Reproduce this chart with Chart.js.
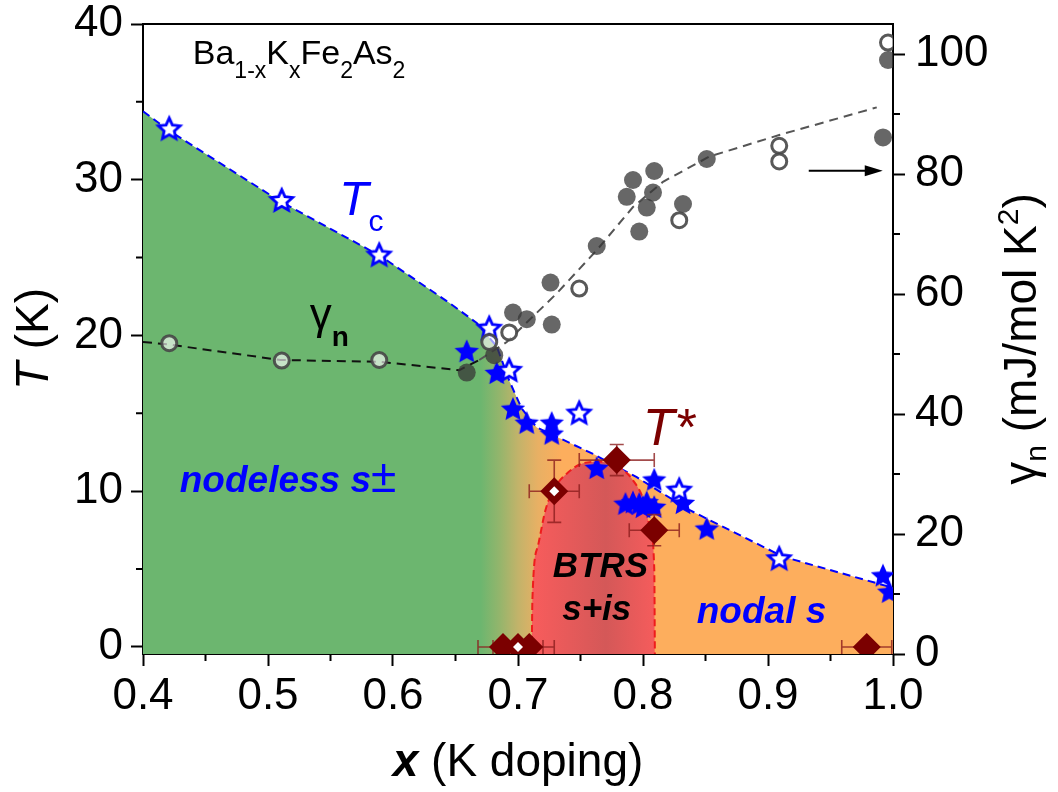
<!DOCTYPE html>
<html lang="en">
<head>
<meta charset="UTF-8">
<title>Ba1-xKxFe2As2 phase diagram</title>
<script src="https://cdnjs.cloudflare.com/ajax/libs/Chart.js/4.4.0/chart.umd.min.js"></script>
<style>
  html, body { margin: 0; padding: 0; background: #fff; }
  .chart-container { position: relative; width: 1058px; height: 792px; }
</style>
</head>
<body>
<div class="chart-container"><canvas id="phaseChart"></canvas></div>
<script>
// ---- axis ticks ----
const xTicks = [0.4, 0.5, 0.6, 0.7, 0.8, 0.9, 1.0];
const xMinorTicks = [0.45, 0.55, 0.65, 0.75, 0.85, 0.95];
const tTicks = [0, 10, 20, 30, 40];
const tMinorTicks = [5, 15, 25, 35];
const gTicks = [0, 20, 40, 60, 80, 100];
const gMinorTicks = [10, 30, 50, 70, 90];

// ---- Tc boundary (dashed blue) ----
const tcLineX = [0.40, 0.42, 0.51, 0.59, 0.645, 0.667, 0.683, 0.693, 0.703, 0.715, 0.76, 0.795, 0.837, 0.912, 1.0];
const tcLineT = [34.4, 33.2, 28.6, 25.1, 22.1, 20.8, 19.3, 17.1, 15.3, 14.1, 12.4, 10.9, 8.8, 5.8, 3.8];

// ---- BTRS dome (dashed red) ----
const domeX = [0.711, 0.7115, 0.716, 0.722, 0.73, 0.74, 0.752, 0.766, 0.78, 0.792, 0.801, 0.806, 0.809, 0.8095];
const domeT = [-0.45, 3.0, 6.5, 8.8, 10.3, 11.2, 11.8, 11.9, 11.6, 10.7, 9.3, 7.5, 5.0, -0.45];

// ---- gamma_n guide line (right axis) ----
const gLineX = [0.40, 0.42, 0.51, 0.59, 0.653, 0.669, 0.691, 0.731, 0.763, 0.792, 0.816, 0.853, 0.909, 0.987];
const gLineG = [52.0, 51.6, 49.0, 48.7, 47.3, 49.0, 52.0, 60.1, 67.3, 74.5, 78.7, 82.9, 86.5, 91.1];

// ---- gamma_n points ----
const gOpenX = [0.421, 0.511, 0.589, 0.677, 0.693, 0.749, 0.829, 0.909, 0.909, 0.996];
const gOpenG = [51.8, 48.9, 49.0, 52.0, 53.6, 60.9, 72.3, 84.7, 82.1, 101.9];
const gFillX = [0.659, 0.681, 0.696, 0.707, 0.727, 0.726, 0.763, 0.787, 0.792, 0.797, 0.803, 0.808, 0.809, 0.832, 0.851, 0.992, 0.996];
const gFillG = [46.9, 49.8, 56.9, 55.8, 54.9, 61.9, 68.0, 76.2, 79.0, 70.4, 74.4, 76.9, 80.5, 75.0, 82.5, 86.1, 99.0];

// ---- Tc points ----
const tcOpenX = [0.421, 0.511, 0.589, 0.677, 0.693, 0.749, 0.829, 0.909];
const tcOpenT = [33.3, 28.7, 25.2, 20.5, 17.8, 15.05, 10.1, 5.7];
const tcFillX = [0.659, 0.683, 0.696, 0.707, 0.727, 0.727, 0.763, 0.786, 0.792, 0.797, 0.800, 0.803, 0.809, 0.809, 0.832, 0.851, 0.992, 0.997];
const tcFillT = [19.0, 17.6, 15.3, 14.4, 14.4, 13.7, 11.5, 9.2, 9.3, 9.2, 9.0, 9.3, 9.0, 10.75, 9.25, 7.6, 4.6, 3.55];

// ---- T* points with error bars ----
const tStarX = [0.779, 0.729, 0.809, 0.688, 0.700, 0.709, 0.979];
const tStarT = [12.0, 10.0, 7.5, 0, 0, 0, 0];
const tStarXErr = [0.03, 0.02, 0.02, 0.02, 0.02, 0.02, 0.02];
const tStarTErr = [1.0, 2.0, 1.0, 0, 0, 0, 0];
const tStarOpenX = [0.729, 0.700];
const tStarOpenT = [10.0, 0];

const FONT = '"Liberation Sans", Arial, Helvetica, sans-serif';
const zip = (xs, ys) => xs.map((x, i) => ({x: x, y: ys[i]}));

function makeStar(filled) {
    const size = 34;
    const c = document.createElement('canvas');
    c.width = c.height = size;
    const g = c.getContext('2d');
    const R = filled ? 12.8 : 11.4;
    const r = R * 0.47;
    g.beginPath();
    for (let i = 0; i < 10; i++) {
        const rad = i % 2 === 0 ? R : r;
        const a = -Math.PI / 2 + i * Math.PI / 5;
        g.lineTo(size / 2 + rad * Math.cos(a), size / 2 + 1 + rad * Math.sin(a));
    }
    g.closePath();
    if (filled) {
        g.fillStyle = '#0000ff';
        g.fill();
    } else {
        g.fillStyle = '#ffffff';
        g.fill();
        g.lineWidth = 2.8;
        g.strokeStyle = '#0000ff';
        g.stroke();
    }
    return c;
}

// fill under Tc: green -> orange across the crossover
function tcFill(context) {
    const chart = context.chart;
    if (!chart.chartArea) return '#6cb66f';
    const xs = chart.scales.x;
    const x0 = xs.getPixelForValue(0.4), x1 = xs.getPixelForValue(1.0);
    const f = v => (v - 0.4) / 0.6;
    const grad = chart.ctx.createLinearGradient(x0, 0, x1, 0);
    grad.addColorStop(0, '#6cb66f');
    grad.addColorStop(f(0.670), '#6cb66f');
    grad.addColorStop(f(0.685), '#93b56c');
    grad.addColorStop(f(0.700), '#c2b36a');
    grad.addColorStop(f(0.716), '#e8b064');
    grad.addColorStop(f(0.735), '#fdae5d');
    grad.addColorStop(1, '#fdae5d');
    return grad;
}

function domeFill(context) {
    const chart = context.chart;
    if (!chart.chartArea) return '#f45b5b';
    const xs = chart.scales.x;
    const grad = chart.ctx.createLinearGradient(xs.getPixelForValue(0.711), 0, xs.getPixelForValue(0.81), 0);
    grad.addColorStop(0, '#f85c5c');
    grad.addColorStop(0.6, '#d45858');
    grad.addColorStop(1, '#f65c5c');
    return grad;
}

const errorBars = {
    id: 'errorBars',
    beforeDatasetDraw(chart, args) {
        if (chart.data.datasets[args.index].label !== 'T*') return;
        const {ctx, chartArea, scales: {x, y}} = chart;
        ctx.save();
        ctx.beginPath();
        ctx.rect(chartArea.left, chartArea.top, chartArea.width, chartArea.height);
        ctx.clip();
        ctx.strokeStyle = 'rgba(140,30,30,0.8)';
        ctx.lineWidth = 1.6;
        const cap = 7;
        tStarX.forEach((v, i) => {
            const px = x.getPixelForValue(v), py = y.getPixelForValue(tStarT[i]);
            ctx.beginPath();
            if (tStarXErr[i]) {
                const l = x.getPixelForValue(v - tStarXErr[i]), r = x.getPixelForValue(v + tStarXErr[i]);
                ctx.moveTo(l, py); ctx.lineTo(r, py);
                ctx.moveTo(l, py - cap); ctx.lineTo(l, py + cap);
                ctx.moveTo(r, py - cap); ctx.lineTo(r, py + cap);
            }
            if (tStarTErr[i]) {
                const t = y.getPixelForValue(tStarT[i] + tStarTErr[i]), b = y.getPixelForValue(tStarT[i] - tStarTErr[i]);
                ctx.moveTo(px, t); ctx.lineTo(px, b);
                ctx.moveTo(px - cap, t); ctx.lineTo(px + cap, t);
                ctx.moveTo(px - cap, b); ctx.lineTo(px + cap, b);
            }
            ctx.stroke();
        });
        ctx.restore();
    }
};

// draw a row of text pieces: [text, font, dy, color]
function drawRuns(ctx, runs, x, y, align) {
    let total = 0;
    runs.forEach(r => { ctx.font = r[1]; total += ctx.measureText(r[0]).width; });
    let cx = align === 'center' ? x - total / 2 : x;
    runs.forEach(r => {
        ctx.font = r[1];
        ctx.fillStyle = r[3];
        ctx.fillText(r[0], cx, y + r[2]);
        cx += ctx.measureText(r[0]).width;
    });
}

const decorations = {
    id: 'decorations',
    afterDatasetsDraw(chart) {
        const {ctx, scales: {x, y, y1}} = chart;
        const px = v => x.getPixelForValue(v), py = v => y.getPixelForValue(v);
        ctx.save();
        ctx.textBaseline = 'alphabetic';
        drawRuns(ctx, [
            ['Ba', '34px ' + FONT, 0, '#000'], ['1-x', '23px ' + FONT, 14, '#000'],
            ['K', '34px ' + FONT, 0, '#000'], ['x', '23px ' + FONT, 14, '#000'],
            ['Fe', '34px ' + FONT, 0, '#000'], ['2', '23px ' + FONT, 14, '#000'],
            ['As', '34px ' + FONT, 0, '#000'], ['2', '23px ' + FONT, 14, '#000']
        ], px(0.4398), py(37.4));
        drawRuns(ctx, [['T', 'italic 48px ' + FONT, 0, '#0000ff'], ['c', '30px ' + FONT, 16, '#0000ff']], px(0.557), py(27.75));
        drawRuns(ctx, [['\u03b3', '44px ' + FONT, 0, '#000'], ['n', 'bold 28px ' + FONT, 17, '#000']], px(0.5334), py(20.4));
        drawRuns(ctx, [['T*', 'italic 52px ' + FONT, 0, '#7b0000']], px(0.7997), py(12.97));
        drawRuns(ctx, [['nodeless s', 'italic bold 37px ' + FONT, 0, '#0000ff'], ['\u00b1', '46px ' + FONT, 0, '#0000ff']], px(0.4294), py(9.95));
        drawRuns(ctx, [['BTRS', 'italic bold 35px ' + FONT, 0, '#000']], px(0.766), py(4.49), 'center');
        drawRuns(ctx, [['s+is', 'italic bold 35px ' + FONT, 0, '#000']], px(0.763), py(1.72), 'center');
        drawRuns(ctx, [['nodal s', 'italic bold 37px ' + FONT, 0, '#0000ff']], px(0.843), py(1.53));

        // arrow pointing to the right axis
        const ay = y1.getPixelForValue(80.55);
        const ax0 = px(0.9326), ax1 = px(0.9918);
        ctx.strokeStyle = '#000';
        ctx.lineWidth = 2;
        ctx.beginPath(); ctx.moveTo(ax0, ay); ctx.lineTo(ax1 - 14, ay); ctx.stroke();
        ctx.fillStyle = '#000';
        ctx.beginPath(); ctx.moveTo(ax1, ay); ctx.lineTo(ax1 - 18, ay - 5.5); ctx.lineTo(ax1 - 18, ay + 5.5); ctx.closePath(); ctx.fill();
        ctx.restore();
    },
    afterDraw(chart) {
        const {ctx, chartArea: a, scales: {x, y, y1}} = chart;
        ctx.save();
        ctx.strokeStyle = '#000';
        ctx.lineWidth = 2;
        // top frame
        ctx.beginPath(); ctx.moveTo(a.left - 1, a.top); ctx.lineTo(a.right + 1, a.top); ctx.stroke();
        // minor ticks
        ctx.beginPath();
        xMinorTicks.forEach(v => { const p = x.getPixelForValue(v); ctx.moveTo(p, a.bottom); ctx.lineTo(p, a.bottom + 7); });
        tMinorTicks.forEach(v => { const p = y.getPixelForValue(v); ctx.moveTo(a.left, p); ctx.lineTo(a.left - 7, p); });
        gMinorTicks.forEach(v => { const p = y1.getPixelForValue(v); ctx.moveTo(a.right, p); ctx.lineTo(a.right + 7, p); });
        ctx.stroke();

        // axis titles
        ctx.textBaseline = 'alphabetic';
        const midY = (a.top + a.bottom) / 2;
        drawRuns(ctx, [['x', 'italic bold 46px ' + FONT, 0, '#000'], [' (K doping)', '46px ' + FONT, 0, '#000']], (a.left + a.right) / 2, 776, 'center');
        ctx.save();
        ctx.translate(48, midY);
        ctx.rotate(-Math.PI / 2);
        drawRuns(ctx, [['T', 'italic 46px ' + FONT, 0, '#000'], [' (K)', '46px ' + FONT, 0, '#000']], 0, 0, 'center');
        ctx.restore();
        ctx.save();
        ctx.translate(1036, midY);
        ctx.rotate(-Math.PI / 2);
        drawRuns(ctx, [
            ['\u03b3', '46px ' + FONT, 0, '#000'], ['n', '30px ' + FONT, 10, '#000'],
            [' (mJ/mol K', '46px ' + FONT, 0, '#000'], ['2', '30px ' + FONT, -18, '#000'],
            [')', '46px ' + FONT, 0, '#000']
        ], 0, 0, 'center');
        ctx.restore();
        ctx.restore();
    }
};

const tickFont = {family: FONT, size: 44};
const tickGrid = {drawOnChartArea: false, tickLength: 12, tickWidth: 2, tickColor: '#000'};
const noVPad = s => { s.paddingTop = 0; s.paddingBottom = 0; };

new Chart(document.getElementById('phaseChart'), {
    type: 'scatter',
    data: {
        datasets: [
            {
                type: 'line', label: 'Tc line', data: zip(tcLineX, tcLineT), yAxisID: 'y',
                borderColor: '#0000ff', borderWidth: 2, borderDash: [8, 5], pointRadius: 0,
                fill: 'start', backgroundColor: tcFill, tension: 0, order: 10, clip: 0
            },
            {
                type: 'line', label: 'BTRS', data: zip(domeX, domeT), yAxisID: 'y',
                borderColor: '#ee1c1c', borderWidth: 2, borderDash: [7, 4], pointRadius: 0,
                fill: 'start', backgroundColor: domeFill, cubicInterpolationMode: 'monotone', order: 9, clip: 0
            },
            {
                type: 'line', label: 'gamma line', data: zip(gLineX, gLineG), yAxisID: 'y1',
                borderColor: '#111', borderWidth: 2, borderDash: [9, 6], pointRadius: 0, fill: false,
                tension: 0, order: 8, clip: 0,
                segment: {borderColor: c => c.p0.parsed.x < 0.66 ? '#111' : '#555'}
            },
            {
                label: 'Tc filled', data: zip(tcFillX, tcFillT), yAxisID: 'y',
                pointStyle: makeStar(true), pointRadius: 10, order: 7, clip: 0
            },
            {
                label: 'Tc open', data: zip(tcOpenX, tcOpenT), yAxisID: 'y',
                pointStyle: makeStar(false), pointRadius: 10, order: 6, clip: 0
            },
            {
                label: 'gamma filled', data: zip(gFillX, gFillG), yAxisID: 'y1',
                pointStyle: 'circle', pointRadius: 9, pointBorderWidth: 0,
                pointBackgroundColor: 'rgba(55,55,55,0.76)', order: 5, clip: 0
            },
            {
                label: 'gamma open', data: zip(gOpenX, gOpenG), yAxisID: 'y1',
                pointStyle: 'circle', pointRadius: 7.5, pointBorderWidth: 3,
                pointBorderColor: 'rgba(70,70,70,0.9)', pointBackgroundColor: 'rgba(255,255,255,0.62)', order: 4, clip: 0
            },
            {
                label: 'T*', data: zip(tStarX, tStarT), yAxisID: 'y',
                pointStyle: 'rectRot', pointRadius: 14, pointBorderWidth: 0,
                pointBackgroundColor: '#7b0000', order: 2, clip: 0
            },
            {
                label: 'T* open', data: zip(tStarOpenX, tStarOpenT), yAxisID: 'y',
                pointStyle: 'rectRot', pointRadius: 5, pointBorderWidth: 0,
                pointBackgroundColor: '#ffffff', order: 1, clip: 0
            }
        ]
    },
    options: {
        responsive: true,
        maintainAspectRatio: false,
        animation: false,
        events: [],
        layout: {padding: {top: 24, left: 0, right: 0, bottom: 0}},
        plugins: {legend: {display: false}, tooltip: {enabled: false}},
        scales: {
            x: {
                type: 'linear', position: 'bottom', min: 0.4, max: 1.0,
                afterBuildTicks: s => { s.ticks = xTicks.map(v => ({value: v})); },
                afterFit: s => { s.height = 138; s.paddingLeft = 0; s.paddingRight = 0; },
                ticks: {callback: v => v.toFixed(1), font: tickFont, color: '#000', padding: 4, maxRotation: 0, autoSkip: false},
                grid: tickGrid,
                border: {color: '#000', width: 2}
            },
            y: {
                type: 'linear', position: 'left', min: -0.45, max: 40,
                afterBuildTicks: s => { s.ticks = tTicks.map(v => ({value: v})); },
                afterFit: s => { s.width = 143; noVPad(s); },
                ticks: {font: tickFont, color: '#000', padding: 8},
                grid: tickGrid,
                border: {color: '#000', width: 2}
            },
            y1: {
                type: 'linear', position: 'right', min: 0, max: 105,
                afterBuildTicks: s => { s.ticks = gTicks.map(v => ({value: v})); },
                afterFit: s => { s.width = 165; noVPad(s); },
                ticks: {font: tickFont, color: '#000', padding: 10},
                grid: tickGrid,
                border: {color: '#000', width: 2}
            }
        }
    },
    plugins: [errorBars, decorations]
});
</script>
</body>
</html>
